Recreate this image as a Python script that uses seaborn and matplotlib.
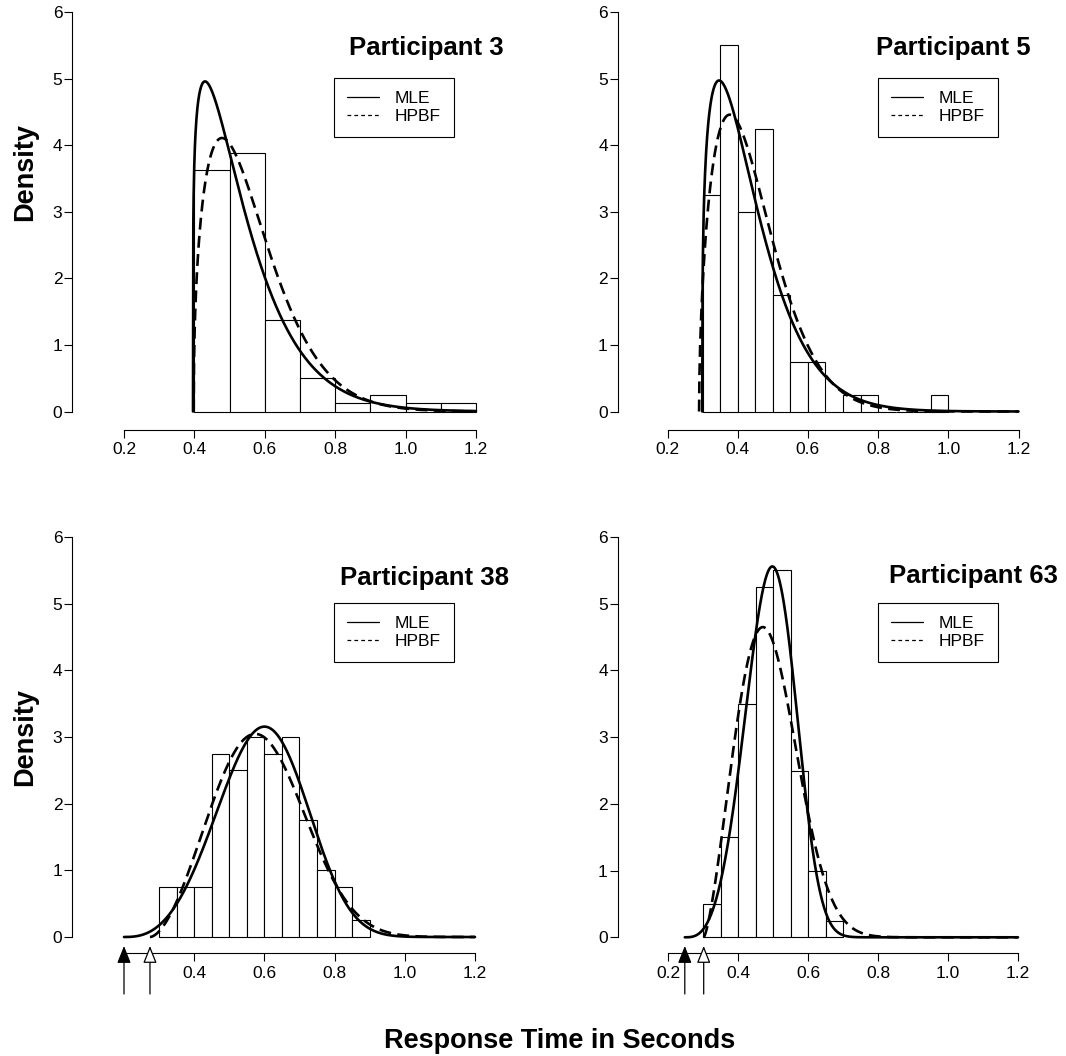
import numpy as np
import pandas as pd
import matplotlib
matplotlib.use("Agg")
import matplotlib.pyplot as plt
import seaborn as sns
from matplotlib.lines import Line2D
from matplotlib.transforms import blended_transform_factory

# ---------------- data ----------------
titles = ["Participant 3", "Participant 5", "Participant 38", "Participant 63"]
legend_labels = ["MLE", "HPBF"]
x_label = "Response Time in Seconds"
y_label = "Density"

# histogram bin edges (s) and counts (n = 80 per participant)
p3_edges = [0.4, 0.5, 0.6, 0.7, 0.8, 0.9, 1.0, 1.1, 1.2]
p3_counts = [29, 31, 11, 4, 1, 2, 1, 1]
p5_edges = [0.30, 0.35, 0.40, 0.45, 0.50, 0.55, 0.60, 0.65, 0.70, 0.75,
            0.80, 0.85, 0.90, 0.95, 1.00]
p5_counts = [13, 22, 12, 17, 7, 3, 3, 0, 1, 1, 0, 0, 0, 1]
p38_edges = [0.30, 0.35, 0.40, 0.45, 0.50, 0.55, 0.60, 0.65, 0.70, 0.75,
             0.80, 0.85, 0.90]
p38_counts = [3, 3, 3, 11, 10, 12, 11, 12, 7, 4, 3, 1]
p63_edges = [0.30, 0.35, 0.40, 0.45, 0.50, 0.55, 0.60, 0.65, 0.70]
p63_counts = [2, 6, 14, 21, 22, 10, 4, 1]

# fitted three-parameter Weibull densities (shift, scale, shape), per participant
mle_shift = [0.396, 0.299, 0.200, 0.248]
mle_scale = [0.152, 0.148, 0.438, 0.2695]
mle_shape = [1.20, 1.30, 3.60, 3.93]
hpbf_shift = [0.398, 0.290, 0.274, 0.302]
hpbf_scale = [0.180, 0.169, 0.355, 0.211]
hpbf_shape = [1.45, 1.555, 2.72, 2.41]

x_ticks = [0.2, 0.4, 0.6, 0.8, 1.0, 1.2]
x_tick_labels = ["0.2", "0.4", "0.6", "0.8", "1.0", "1.2"]
y_ticks = [0, 1, 2, 3, 4, 5, 6]
x_end = 1.2

edges_all = [p3_edges, p5_edges, p38_edges, p63_edges]
counts_all = [p3_counts, p5_counts, p38_counts, p63_counts]

# ---------------- style ----------------
sns.set_style("white")
plt.rcParams["font.family"] = ["Liberation Sans", "DejaVu Sans"]
plt.rcParams["text.color"] = "black"
plt.rcParams["axes.edgecolor"] = "black"
plt.rcParams["xtick.color"] = "black"
plt.rcParams["ytick.color"] = "black"

W, H = 1066, 1056
fig = plt.figure(figsize=(W / 100, H / 100), dpi=100)

# panel geometry in pixels: y-axis x, x(0.2), x(1.2), y(0), y(6), x-axis y
geom = [
    (72.0, 124.0, 476.0, 411.5, 12.0, 430.0),
    (617.5, 667.5, 1018.5, 411.5, 12.0, 430.0),
    (72.0, 124.0, 475.0, 937.0, 537.0, 953.0),
    (617.5, 668.0, 1018.0, 937.3, 537.0, 953.0),
]
title_pos = [(349, 55), (876, 55), (340, 585), (889, 583)]
legend_pos = [(334, 78), (878, 78), (334, 603), (878, 603)]
ylabel_pos = [(25, 172), (25, 737)]
show_arrows = [False, False, True, True]
first_label_blank = [False, False, True, False]


def weibull_pdf(t, shift, scale, shape):
    z = np.clip((np.asarray(t) - shift) / scale, 0, None)
    return shape / scale * z ** (shape - 1) * np.exp(-z ** shape)


for i in range(4):
    yax, x02, x12, y0, y6, xax = geom[i]
    ppx = (x12 - x02) / 1.0
    left, right = yax, x12 + 12
    ppy = (y0 - y6) / 6.0
    top, bottom = y6 - 6, xax
    ax = fig.add_axes([left / W, 1 - bottom / H, (right - left) / W, (bottom - top) / H])
    ax.patch.set_alpha(0)

    edges = [float(e) for e in edges_all[i]]
    centers = [(a + b) / 2 for a, b in zip(edges[:-1], edges[1:])]
    hist_df = pd.DataFrame({"rt": centers, "n": counts_all[i]})
    sns.histplot(data=hist_df, x="rt", weights="n", bins=edges, stat="density",
                 color="white", edgecolor="black", linewidth=0.8, alpha=1,
                 ax=ax, legend=False)

    t1 = np.linspace(mle_shift[i], x_end, 900)
    sns.lineplot(x=t1, y=weibull_pdf(t1, mle_shift[i], mle_scale[i], mle_shape[i]),
                 ax=ax, color="black", lw=1.9, estimator=None)
    t2 = np.linspace(hpbf_shift[i], x_end, 900)
    sns.lineplot(x=t2, y=weibull_pdf(t2, hpbf_shift[i], hpbf_scale[i], hpbf_shape[i]),
                 ax=ax, color="black", lw=1.9, linestyle=(0, (4.5, 2.4)), estimator=None)

    ax.set_xlim(0.2 - (x02 - left) / ppx, 1.2 + (right - x12) / ppx)
    ax.set_ylim(-(bottom - y0) / ppy, 6 + (y6 - top) / ppy)
    ax.set_xlabel("")
    ax.set_ylabel("")
    ax.set_xticks(x_ticks)
    labs = list(x_tick_labels)
    if first_label_blank[i]:
        labs[0] = ""
    ax.set_xticklabels(labs)
    ax.set_yticks(y_ticks)
    ax.set_yticklabels([str(v) for v in y_ticks])
    for s in ["top", "right"]:
        ax.spines[s].set_visible(False)
    ax.spines["left"].set_bounds(0, 6)
    ax.spines["bottom"].set_bounds(0.2, 1.2)
    for s in ["left", "bottom"]:
        ax.spines[s].set_linewidth(0.8)
        ax.spines[s].set_color("black")
    ax.tick_params(axis="both", which="major", direction="out", length=6, width=0.8,
                   labelsize=12.5, colors="black", bottom=True, left=True,
                   top=False, right=False)
    ax.tick_params(axis="y", pad=1.0)
    ax.tick_params(axis="x", pad=3)

    # legend
    handles = [Line2D([], [], color="black", lw=0.9),
               Line2D([], [], color="black", lw=0.9, linestyle=(0, (3, 2.5)))]
    lx, ly = legend_pos[i]
    leg = ax.legend(handles, legend_labels, loc="upper left",
                    bbox_to_anchor=(lx / W, 1 - ly / H), bbox_transform=fig.transFigure,
                    frameon=True, fancybox=False, edgecolor="black", framealpha=1,
                    fontsize=12.5, handlelength=1.85, handletextpad=0.9,
                    borderpad=0.75, labelspacing=0.15, borderaxespad=0)
    leg.get_frame().set_linewidth(0.8)

    # title
    tx, ty = title_pos[i]
    fig.text(tx / W, 1 - ty / H, titles[i], ha="left", va="baseline",
             fontsize=18.5, fontweight="bold")

    # arrows marking the shift estimates
    if show_arrows[i]:
        trans = blended_transform_factory(ax.transData, fig.transFigure)
        for sh, fc in [(mle_shift[i], "black"), (hpbf_shift[i], "white")]:
            ax.annotate("", xy=(sh, 1 - 946 / H), xytext=(sh, 1 - 994 / H),
                        xycoords=trans, textcoords=trans, annotation_clip=False,
                        arrowprops=dict(arrowstyle="-|>,head_length=0.75,head_width=0.3",
                                        mutation_scale=14, fc=fc, ec="black", lw=0.9,
                                        shrinkA=0, shrinkB=0))

# shared axis labels
for (px, py) in ylabel_pos:
    fig.text(px / W, 1 - py / H, y_label, rotation=90, ha="center", va="center",
             fontsize=19.5, fontweight="bold")
fig.text(560 / W, 1 - 1041 / H, x_label, ha="center", va="center",
         fontsize=19.5, fontweight="bold")

fig.savefig("out.png", dpi=100)
